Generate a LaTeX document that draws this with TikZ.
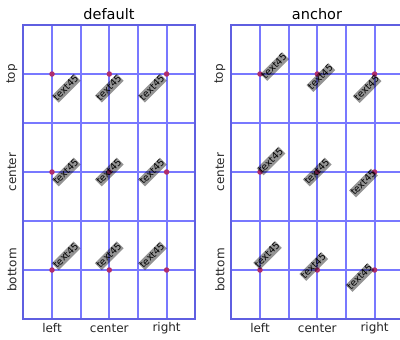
\documentclass[tikz,border=0pt]{standalone}
\usepackage{fontspec}
\setmainfont{DejaVu Sans}
\definecolor{gridblue}{RGB}{120,120,255}
\definecolor{frameblue}{RGB}{95,95,225}
\definecolor{dotred}{RGB}{175,45,110}
\begin{document}
\begin{tikzpicture}[x=1pt,y=-1pt,
  gline/.style={draw=gridblue, line width=1.8pt},
  fline/.style={draw=frameblue, line width=1.6pt},
  dot/.style={circle, fill=dotred, inner sep=0pt, minimum size=5.5pt},
  tbox/.style={font=\fontsize{9.5}{9.5}\selectfont, inner sep=0pt, text height=0.76em, text depth=0.21em, fill=black, fill opacity=0.42, text opacity=1, rotate=45},
  ttl/.style={font=\fontsize{14.5}{14.5}\selectfont},
  tick/.style={font=\fontsize{12}{12}\selectfont, text=black!85},
]
\useasboundingbox (0,0) rectangle (400,340);
\clip (0,0) rectangle (400,340);
% grids
\foreach \xo/\xe/\xs in {23/195/{52,81,109,138,167},231/403/{260,289,317,346,375}}{
  \foreach \x in \xs{
    \draw[gline] (\x,25) -- (\x,319);
  }
  \foreach \y in {74,123,172,221,270}{
    \draw[gline] (\xo,\y) -- (\xe,\y);
  }
  \draw[fline] (\xo,25) rectangle (\xe,319);
}
% dots
\foreach \xo/\p in {23/d,231/a}{
  \foreach \i in {0,1,2}{
    \foreach \j in {0,1,2}{
      \node[dot] (\p pt\i\j) at ({\xo+29+\i*57.3},{74+\j*98}) {};
    }
  }
}
% default mode texts
\foreach \i/\dx in {0/1,1/0,2/-1}{
  \foreach \j/\dy in {0/1,1/0,2/-1}{
    \node[tbox] (dt\i\j) at ({23+29+\i*57.3+\dx*14.2},{74+\j*98+\dy*14.2}) {text45};
  }
}
% anchor mode texts
\foreach \i/\j/\anc in {0/0/north west, 1/0/north, 2/0/north east, 0/1/west, 1/1/center, 2/1/east, 0/2/south west, 1/2/south, 2/2/south east}{
  \node[tbox, anchor=\anc] (at\i\j) at ({231+29+\i*57.3},{74+\j*98}) {text45};
}
% titles
\node[ttl] (t1) at (109,14) {default};
\node[ttl] (t2) at (317,14) {anchor};
% tick labels
\foreach \xo/\p in {23/d,231/a}{
  \foreach \i/\lab in {0/left,1/center,2/right}{
    \node[tick] (\p x\i) at ({\xo+29+\i*57.3},328) {\lab};
  }
  \foreach \j/\lab in {0/top,1/center,2/bottom}{
    \node[tick, rotate=90] (\p y\j) at ({\xo-11},{74+\j*98}) {\lab};
  }
}
\end{tikzpicture}
\end{document}
